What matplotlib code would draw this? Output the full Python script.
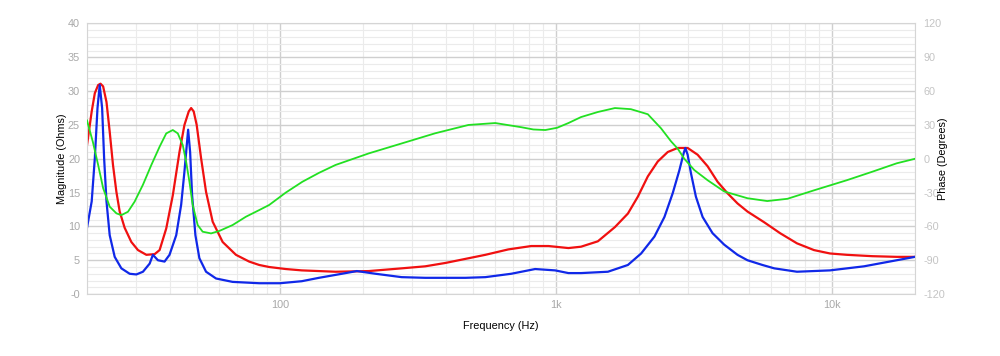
import matplotlib
matplotlib.use("Agg")
import matplotlib.pyplot as plt
from matplotlib.ticker import FixedLocator, NullFormatter

plt.rcParams["font.family"] = ["Liberation Sans", "DejaVu Sans"]
plt.rcParams["axes.unicode_minus"] = False

# red magnitude trace (Hz, Ohms)
red_freq = [20, 20.8, 21.35, 21.95, 22.39, 22.88, 23.53, 24.17, 24.84, 25.56,
            26.27, 27.38, 28.95, 30.6, 32.82, 35.16, 36.65, 38.74, 40.92, 43.26,
            45.09, 46.74, 47.68, 48.71, 49.94, 51.8, 54.0, 57.06, 62.01, 69.3,
            77.4, 84.14, 91.4, 105, 120, 159, 210, 276, 336, 398, 470, 555, 672,
            814, 940, 1110, 1233, 1419, 1636, 1823, 1981, 2153, 2339, 2542,
            2762, 3001, 3261, 3544, 3852, 4186, 4549, 4943, 5690, 6490, 7470,
            8610, 9840, 11330, 14000, 17180, 20000]
red_ohm = [22.0, 27.0, 29.7, 30.9, 31.1, 30.7, 28.4, 24.0, 19.1, 15.1,
           12.2, 9.8, 7.7, 6.5, 5.8, 5.9, 6.5, 9.7, 14.6, 21.0,
           25.0, 27.0, 27.5, 27.0, 25.0, 20.1, 15.1, 10.7, 7.7, 5.8,
           4.8, 4.3, 4.0, 3.7, 3.5, 3.3, 3.4, 3.8, 4.1, 4.6, 5.2, 5.8, 6.6,
           7.1, 7.1, 6.8, 7.0, 7.8, 9.9, 11.9, 14.4, 17.4, 19.6, 21.0,
           21.6, 21.6, 20.6, 18.9, 16.6, 14.9, 13.4, 12.2, 10.6, 9.0, 7.5,
           6.5, 6.0, 5.8, 5.6, 5.5, 5.5]

# blue magnitude trace (Hz, Ohms)
blue_freq = [20, 20.8, 21.35, 21.83, 22.24, 22.69, 23.07, 23.53, 24.17, 25.2,
             26.64, 28.55, 30.19, 31.9, 33.73, 34.66, 36.14, 38.19, 39.81, 42.1,
             43.87, 45.09, 45.97, 46.5, 47.28, 48.07, 49.41, 51.07, 54.0, 58.7,
             67.37, 84.14, 100, 120, 138.5, 167.7, 190, 222, 276, 336, 398, 470,
             555, 689, 841, 993, 1110, 1233, 1543, 1823, 2036, 2275, 2473, 2649,
             2801, 2902, 2944, 3001, 3084, 3215, 3400, 3694, 4072, 4549, 4943,
             5600, 6183, 7470, 9840, 13070, 17180, 20000]
blue_ohm = [9.8, 13.7, 20.1, 27.5, 30.9, 27.5, 20.1, 13.7, 8.7, 5.5,
            3.8, 3.0, 2.9, 3.3, 4.5, 5.8, 5.0, 4.8, 5.8, 8.7,
            13.2, 18.1, 22.0, 24.3, 21.0, 14.6, 8.7, 5.3, 3.3, 2.3,
            1.8, 1.6, 1.6, 1.9, 2.4, 3.0, 3.4, 3.0, 2.5, 2.4, 2.4, 2.4,
            2.5, 3.0, 3.7, 3.5, 3.1, 3.1, 3.3, 4.3, 6.0, 8.5, 11.4, 14.9,
            18.3, 20.8, 21.6, 20.6, 17.9, 14.4, 11.4, 9.0, 7.3, 5.8, 5.0,
            4.3, 3.8, 3.3, 3.5, 4.1, 5.0, 5.5]

# green phase trace (Hz, degrees)
phase_freq = [20, 21.0, 21.95, 22.88, 24.17, 25.56, 26.64, 28.15, 29.76, 31.9,
              34.21, 36.65, 38.74, 40.92, 42.66, 44.46, 45.73, 47.01, 48.31,
              50.36, 52.49, 56.3, 60.33, 67.37, 75.31, 84.14, 91.4, 105, 120.6,
              138.5, 159, 210, 277, 365, 482, 603, 749, 828, 915, 1010,
              1110, 1233, 1419, 1636, 1869, 2153, 2404, 2612, 2762, 2919, 3172,
              3544, 4072, 4943, 5830, 6900, 8610, 11330, 14000, 17180, 20000]
phase_deg = [34.0, 15.0, -5.5, -26.0, -42.5, -48.4, -50.0, -47.0, -38.0, -23.0,
             -5.5, 10.7, 22.5, 25.5, 22.5, 12.2, -2.6, -20.4, -41.0,
             -58.8, -64.7, -66.2, -64.0, -58.8, -51.4, -45.5, -41.0, -30.0, -20.4,
             -12.5, -5.5, 4.8, 13.7, 22.6, 30.0, 31.7, 28.0, 26.0, 25.5, 27.5,
             31.7, 37.0, 41.5, 45.0, 44.0, 39.5, 27.0, 15.5, 9.0, 0.0, -10.0,
             -19.0, -29.0, -35.0, -37.5, -35.5, -28.0, -19.0, -11.5, -4.0, 0.0]

mag_ticks = [0, 5, 10, 15, 20, 25, 30, 35, 40]
mag_labels = ["-0", "5", "10", "15", "20", "25", "30", "35", "40"]
phase_ticks = [-120, -90, -60, -30, 0, 30, 60, 90, 120]
freq_ticks = [100, 1000, 10000]
freq_labels = ["100", "1k", "10k"]

FS = 7.8


def style_grid(ax):
    minor_x = [m * 10 ** d for d in range(1, 5) for m in range(2, 10)]
    ax.xaxis.set_minor_locator(FixedLocator(minor_x))
    ax.xaxis.set_minor_formatter(NullFormatter())
    ax.yaxis.set_minor_locator(FixedLocator(range(0, 41)))
    ax.grid(which="major", color="#cfcfcf", linewidth=1.0)
    ax.grid(which="minor", color="#ebebeb", linewidth=0.8)
    ax.set_axisbelow(True)
    ax.tick_params(which="both", length=0)


def main():
    fig, ax = plt.subplots(figsize=(10, 3.56), dpi=100)
    fig.subplots_adjust(left=0.087, right=0.915, top=0.934, bottom=0.174)

    ax.set_xscale("log")
    ax.set_xlim(20, 20000)
    ax.set_ylim(0, 40)
    style_grid(ax)

    ax.set_xticks(freq_ticks)
    ax.set_xticklabels(freq_labels)
    ax.set_yticks(mag_ticks)
    ax.set_yticklabels(mag_labels)
    ax.tick_params(axis="y", labelsize=FS, labelcolor="#a8a8a8", pad=5)
    ax.tick_params(axis="x", labelsize=FS, labelcolor="#a8a8a8", pad=4)

    for s in ax.spines.values():
        s.set_color("#d5d5d5")

    ax.plot(red_freq, red_ohm, color="#f01010", linewidth=1.6)
    ax.plot(blue_freq, blue_ohm, color="#1028e8", linewidth=1.6)

    ax2 = ax.twinx()
    ax2.set_ylim(-120, 120)
    ax2.set_yticks(phase_ticks)
    ax2.tick_params(length=0, labelsize=FS, labelcolor="#c4c4c4", pad=6)
    for s in ax2.spines.values():
        s.set_visible(False)
    ax2.plot(phase_freq, phase_deg, color="#22e022", linewidth=1.3)

    ax.set_xlabel("Frequency (Hz)", fontsize=FS)
    ax.xaxis.set_label_coords(0.5, -0.10)
    ax.set_ylabel("Magnitude (Ohms)", fontsize=FS)
    ax.yaxis.set_label_coords(-0.024, 0.5)
    ax2.set_ylabel("Phase (Degrees)", fontsize=FS, rotation=90)
    ax2.yaxis.set_label_coords(1.028, 0.5)

    fig.savefig("out.png", dpi=100)
    plt.close(fig)


if __name__ == "__main__":
    main()
